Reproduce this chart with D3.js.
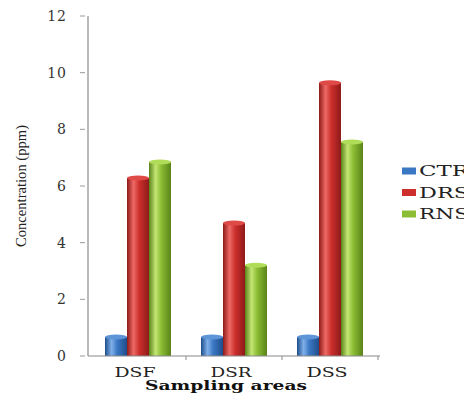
<!DOCTYPE html>
<html>
<head>
<meta charset="utf-8">
<script src="https://cdn.jsdelivr.net/npm/d3@7/dist/d3.min.js"></script>
<style>
  html, body { margin: 0; padding: 0; background: #fff; }
  svg { display: block; }
</style>
</head>
<body>
<svg id="chart" width="464" height="396"></svg>
<script>
// Sampling areas and the three series measured in each
const categories = ["DSF", "DSR", "DSS"];
const seriesNames = ["CTR", "DRS", "RNS"];
const ctrValues = [0.67, 0.67, 0.67];
const drsValues = [6.28, 4.69, 9.64];
const rnsValues = [6.85, 3.2, 7.55];
const yTicks = [0, 2, 4, 6, 8, 10, 12];

const seriesValues = [ctrValues, drsValues, rnsValues];
const palette = {
  CTR: { base: "#3b78c4", light: "#7fb0ea", dark: "#1f4d8a", top: "#5d95d8" },
  DRS: { base: "#cc2f2c", light: "#ee6a66", dark: "#8e1a18", top: "#e04a46" },
  RNS: { base: "#8cbd35", light: "#c4e673", dark: "#5a8419", top: "#b0dc58" }
};

const svg = d3.select("#chart");
const serif = "'DejaVu Serif', 'Liberation Serif', serif";
const times = "'Liberation Serif', 'DejaVu Serif', serif";

const x0 = d3.scaleBand().domain(categories).range([90, 378]);
const x1 = d3.scaleBand().domain(seriesNames).range([15, 81]);
const y = d3.scaleLinear().domain([0, 12]).range([356, 16]);

// Horizontal gradients give each bar a rounded, cylinder-like shading
const defs = svg.append("defs");
seriesNames.forEach(name => {
  const c = palette[name];
  const g = defs.append("linearGradient")
    .attr("id", "grad-" + name)
    .attr("x1", "0%").attr("x2", "100%").attr("y1", "0%").attr("y2", "0%");
  g.append("stop").attr("offset", "0%").attr("stop-color", c.dark);
  g.append("stop").attr("offset", "30%").attr("stop-color", c.light);
  g.append("stop").attr("offset", "55%").attr("stop-color", c.base);
  g.append("stop").attr("offset", "100%").attr("stop-color", c.dark);
});

// Y axis
const yAxis = svg.append("g");
yAxis.append("line")
  .attr("x1", 88).attr("x2", 88)
  .attr("y1", y(12)).attr("y2", y(0))
  .attr("stroke", "#8a8a8a").attr("stroke-width", 1.2);
yAxis.selectAll(".tick")
  .data(yTicks)
  .join("line")
  .attr("x1", 80).attr("x2", 85)
  .attr("y1", d => y(d)).attr("y2", d => y(d))
  .attr("stroke", "#9a9a9a").attr("stroke-width", 1);
yAxis.selectAll(".tlabel")
  .data(yTicks)
  .join("text")
  .attr("x", 67)
  .attr("y", d => y(d))
  .attr("dy", "0.36em")
  .attr("text-anchor", "end")
  .attr("font-family", serif)
  .attr("font-size", 14)
  .attr("letter-spacing", 1)
  .attr("fill", "#333")
  .text(d => d);

// Y axis title
svg.append("text")
  .attr("transform", "translate(26,186) rotate(-90)")
  .attr("text-anchor", "middle")
  .attr("font-family", times)
  .attr("font-size", 15)
  .attr("textLength", 122)
  .attr("lengthAdjust", "spacingAndGlyphs")
  .attr("fill", "#222")
  .text("Concentration (ppm)");

// Bars
const groups = svg.append("g")
  .selectAll("g")
  .data(categories)
  .join("g")
  .attr("transform", d => `translate(${x0(d)},0)`);

groups.each(function(cat, ci) {
  const g = d3.select(this);
  seriesNames.forEach((name, si) => {
    const v = seriesValues[si][ci];
    const bx = x1(name);
    const bw = x1.bandwidth();
    g.append("rect")
      .attr("x", bx).attr("width", bw)
      .attr("y", y(v)).attr("height", y(0) - y(v))
      .attr("fill", `url(#grad-${name})`);
    g.append("ellipse")
      .attr("cx", bx + bw / 2).attr("cy", y(v))
      .attr("rx", bw / 2).attr("ry", 2.5)
      .attr("fill", palette[name].top);
  });
});

// X axis
const xAxis = svg.append("g");
xAxis.append("line")
  .attr("x1", 88).attr("x2", 380)
  .attr("y1", y(0)).attr("y2", y(0))
  .attr("stroke", "#8a8a8a").attr("stroke-width", 1.2);
xAxis.selectAll(".xtick")
  .data(categories.slice(1).concat(["end"]))
  .join("line")
  .attr("x1", (d, i) => x0.range()[0] + x0.step() * (i + 1))
  .attr("x2", (d, i) => x0.range()[0] + x0.step() * (i + 1))
  .attr("y1", y(0)).attr("y2", y(0) + 4)
  .attr("stroke", "#8a8a8a");
xAxis.selectAll(".xlabel")
  .data(categories)
  .join("text")
  .attr("x", d => x0(d) + x0.bandwidth() / 2 - 3)
  .attr("y", 377)
  .attr("text-anchor", "middle")
  .attr("font-family", serif)
  .attr("font-size", 13)
  .attr("textLength", 41)
  .attr("lengthAdjust", "spacingAndGlyphs")
  .attr("fill", "#222")
  .text(d => d);

// X axis title
svg.append("text")
  .attr("x", 226)
  .attr("y", 390)
  .attr("text-anchor", "middle")
  .attr("font-family", serif)
  .attr("font-weight", "bold")
  .attr("font-size", 12)
  .attr("textLength", 162)
  .attr("lengthAdjust", "spacingAndGlyphs")
  .attr("fill", "#111")
  .text("Sampling  areas");

// Legend (runs off the right edge of the canvas)
const legend = svg.append("g")
  .selectAll("g")
  .data(seriesNames)
  .join("g")
  .attr("transform", (d, i) => `translate(402,${171 + i * 21.5})`);
legend.append("rect")
  .attr("x", 0).attr("y", -3.5)
  .attr("width", 14).attr("height", 7)
  .attr("fill", d => palette[d].base);
legend.append("text")
  .attr("x", 17).attr("y", 0)
  .attr("dy", "0.35em")
  .attr("font-family", serif)
  .attr("font-size", 15)
  .attr("textLength", 50)
  .attr("lengthAdjust", "spacingAndGlyphs")
  .attr("fill", "#222")
  .text(d => d);
</script>
</body>
</html>
